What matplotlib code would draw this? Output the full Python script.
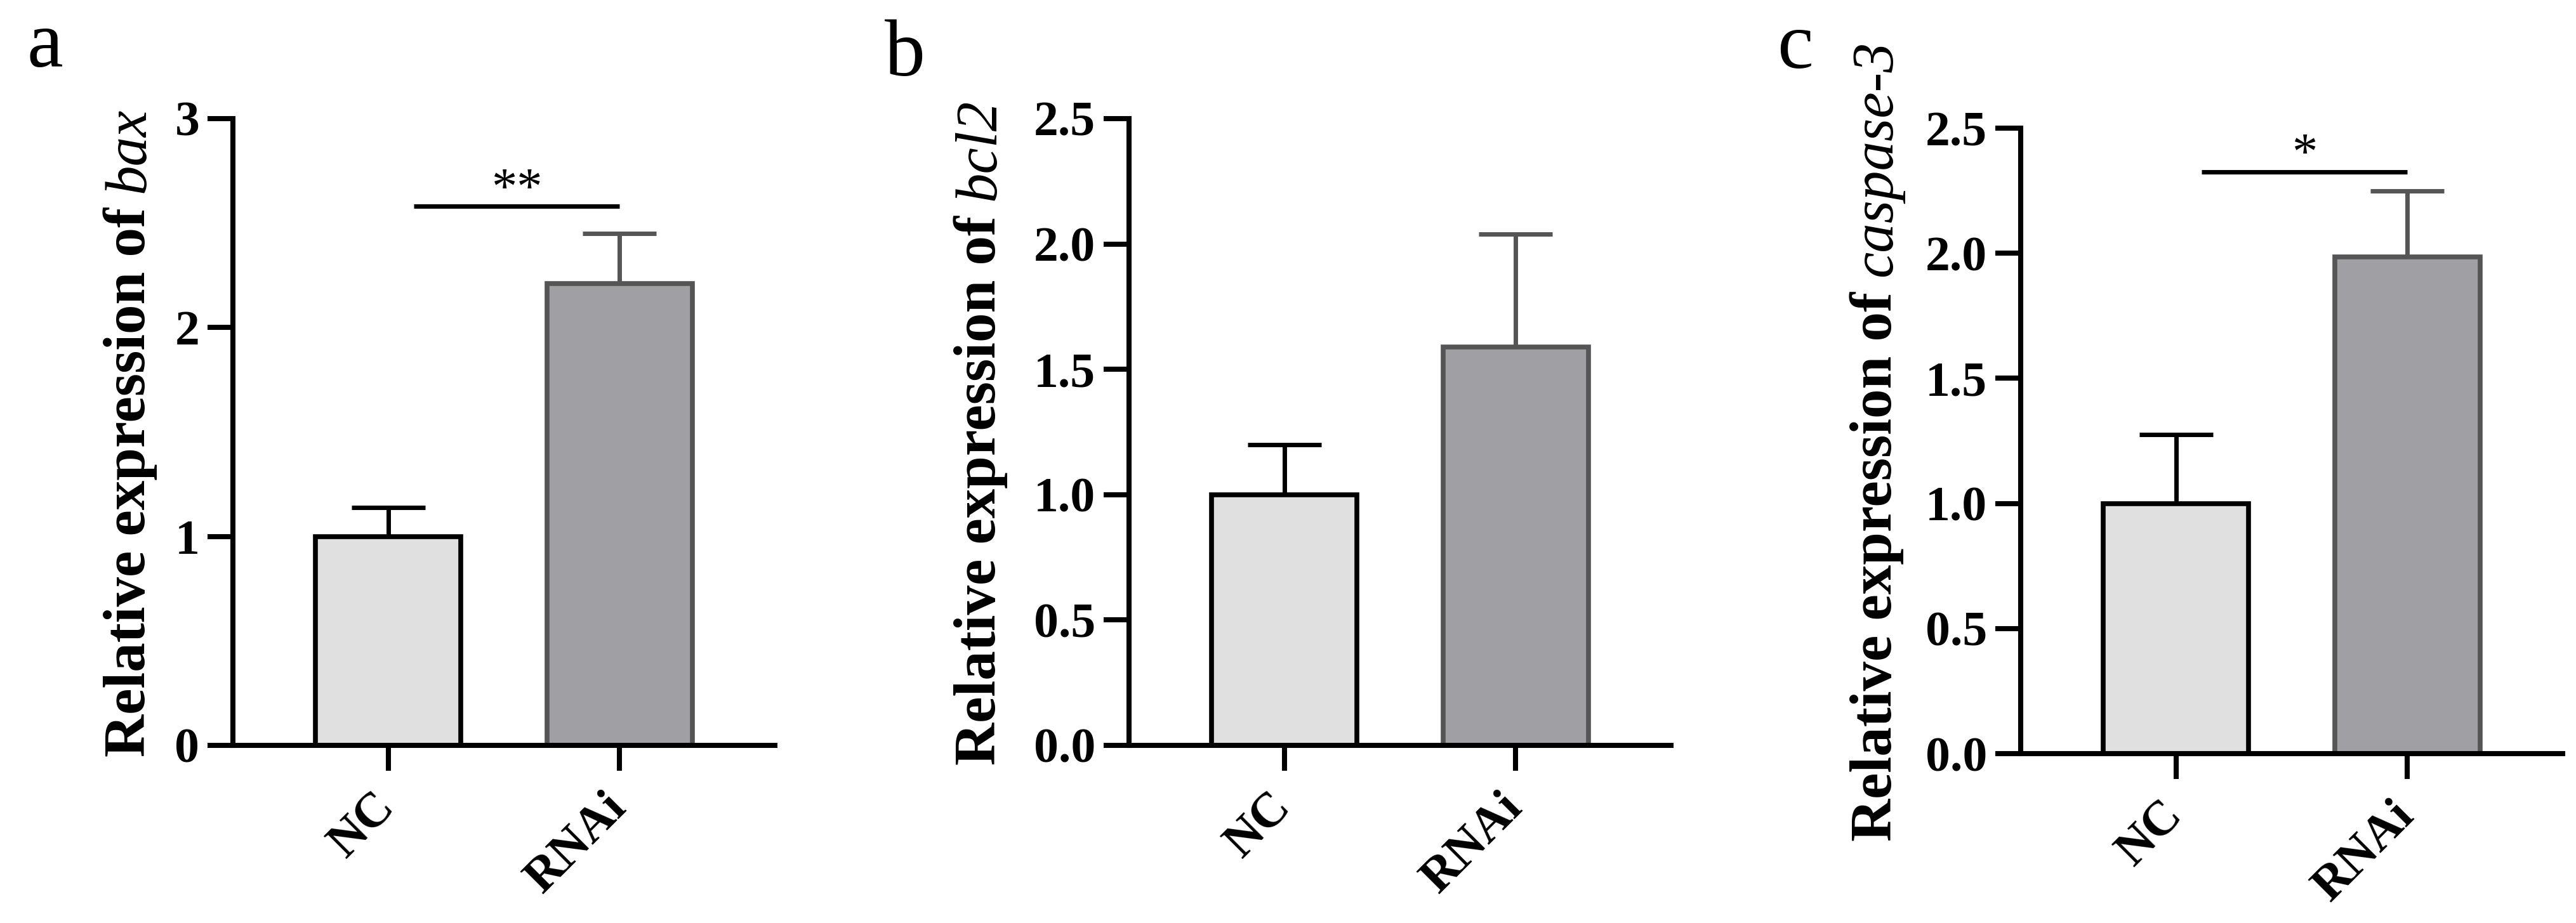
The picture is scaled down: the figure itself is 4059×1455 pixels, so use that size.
import matplotlib
matplotlib.use('Agg')
import matplotlib.pyplot as plt
import numpy as np

plt.rcParams['font.family'] = ['Liberation Serif', 'DejaVu Serif']
plt.rcParams['font.weight'] = 'bold'

# data
groups = ['NC', 'RNAi']
bax_mean = [1.0, 2.21]
bax_sd = [0.14, 0.24]
bcl2_mean = [1.0, 1.59]
bcl2_sd = [0.20, 0.45]
casp3_mean = [1.0, 1.985]
casp3_sd = [0.275, 0.265]

bax_ticks = [0, 1, 2, 3]
other_ticks = [0.0, 0.5, 1.0, 1.5, 2.0, 2.5]

W, H = 4059, 1455
DPI = 100
fig = plt.figure(figsize=(W / DPI, H / DPI), dpi=DPI)
renderer = fig.canvas.get_renderer()

fill_cols = ['#e0e0e0', '#a0a0a4']
edge_cols = ['#000000', '#555555']
LABEL_FS = 67


def px_box(left, right, top, bottom):
    return [left / W, 1 - bottom / H, (right - left) / W, (bottom - top) / H]


panels = [
    # letter, letter pos, axes box (px), label baseline x (px), means, sds, ylim, ticks, fmt, gene, significance
    ('a', (42, 105), (367, 1221, 187, 1175), 228, bax_mean, bax_sd, 3, bax_ticks, '%d', 'bax', ('**', 2.58)),
    ('b', (1394, 119), (1779, 2633, 187, 1175), 1568, bcl2_mean, bcl2_sd, 2.5, other_ticks, '%.1f', 'bcl2', None),
    ('c', (2800, 107), (3184, 4038, 202, 1188), 2980, casp3_mean, casp3_sd, 2.5, other_ticks, '%.1f', 'caspase-3', ('*', 2.325)),
]

for letter, lpos, box, lab_x, means, sds, ymax, ticks, fmt, gene, sig in panels:
    ax = fig.add_axes(px_box(*box))
    x = np.arange(len(groups))
    ax.bar(x, means, width=0.63, color=fill_cols, edgecolor=edge_cols, linewidth=5.5, zorder=2)
    for i in range(len(x)):
        ax.errorbar(x[i], means[i], yerr=[[0], [sds[i]]], fmt='none', ecolor=edge_cols[i],
                    elinewidth=5, capsize=42, capthick=5, zorder=1)
    ax.set_xlim(-0.67, 1.67)
    ax.set_ylim(0, ymax)
    for s in ['top', 'right']:
        ax.spines[s].set_visible(False)
    for s in ['left', 'bottom']:
        ax.spines[s].set_linewidth(5.8)
    ax.set_yticks(ticks)
    ax.set_yticklabels([fmt % t for t in ticks])
    ax.set_xticks(x)
    ax.set_xticklabels(groups, rotation=45, ha='right', va='center', rotation_mode='anchor')
    ax.tick_params(axis='both', length=29, width=5.8, labelsize=56)
    ax.tick_params(axis='y', pad=9)
    ax.tick_params(axis='x', pad=34)

    if sig is not None:
        stars, yline = sig
        ax.plot([0.11, 1.0], [yline, yline], color='black', lw=5, solid_capstyle='butt', clip_on=False)
        ax.annotate(stars, xy=((0.11 + 1.0) / 2, yline), xytext=(0, 4), textcoords='offset points',
                    ha='center', va='baseline', fontsize=58, fontweight='normal')

    # y label: bold words + italic gene name, centred on the axis
    t1 = fig.text(lab_x / W, 0.5, 'Relative expression of', rotation=90, rotation_mode='anchor',
                  ha='left', va='baseline', fontsize=LABEL_FS, fontweight='bold')
    t2 = fig.text(lab_x / W, 0.5, gene, rotation=90, rotation_mode='anchor',
                  ha='left', va='baseline', fontsize=LABEL_FS, fontweight='normal', style='italic')
    len1 = t1.get_window_extent(renderer).height
    len2 = t2.get_window_extent(renderer).height
    space = 0.25 * LABEL_FS * DPI / 72
    total = len1 + space + len2
    centre = H - (box[2] + box[3]) / 2
    y0 = centre - total / 2
    t1.set_y(y0 / H)
    t2.set_y((y0 + len1 + space) / H)

    fig.text(lpos[0] / W, 1 - lpos[1] / H, letter, fontsize=92, fontweight='normal',
             ha='left', va='baseline')

fig.savefig('out.png', dpi=DPI, facecolor='white')
